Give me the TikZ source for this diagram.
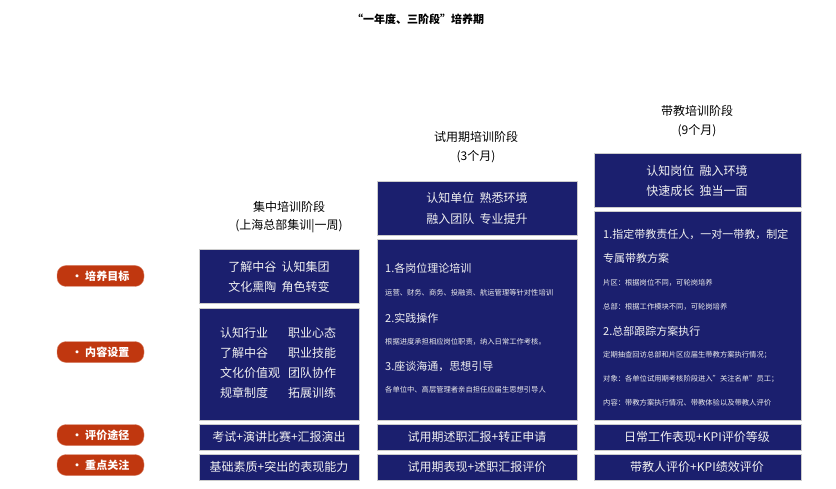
\documentclass[tikz,border=0pt]{standalone}
\usepackage{fontspec}
\setmainfont{Noto Sans CJK SC}
\begin{document}
\begin{tikzpicture}[x=1pt,y=-1pt,
  nbox/.style={fill=navy,draw=gray!40,line width=0.6pt},
  wt/.style={text=white!88!gray,font=\fontsize{12}{14}\selectfont,inner sep=0pt},
  st/.style={text=white!85!gray,font=\fontsize{7.3}{9}\selectfont,inner sep=0pt,anchor=west},
  mt/.style={text=white!88!gray,font=\fontsize{11}{13}\selectfont,inner sep=0pt,anchor=west},
  pill/.style={fill=pillc,draw=pillc!60,rounded corners=9pt,minimum width=87pt,minimum height=21pt,inner sep=0pt,text=white,font=\fontsize{11}{13}\selectfont\bfseries},
  ttl/.style={font=\fontsize{12}{14}\selectfont,inner sep=0pt}]
\definecolor{navy}{HTML}{1B1F6E}
\definecolor{pillc}{HTML}{C0370F}
\useasboundingbox (0,0) rectangle (836,489);
\node[font=\fontsize{11}{13}\selectfont\bfseries,inner sep=0pt] (title) at (418,19) {“一年度、三阶段”培养期};
% titles
\node[ttl] (t1a) at (289,207) {集中培训阶段};
\node[ttl] (t1b) at (289,226) {(上海总部集训|一周)};
\node[ttl] (t2a) at (476,137) {试用期培训阶段};
\node[ttl] (t2b) at (476,157) {(3个月)};
\node[ttl] (t3a) at (697,111) {带教培训阶段};
\node[ttl] (t3b) at (697,131) {(9个月)};
% pills
\foreach \n/\y/\t in {p1/276/培养目标,p2/352/内容设置,p3/435/评价途径,p4/465/重点关注}{
  \node[pill] (\n) at (100.5,\y) {\textbullet\ \t};
}
% column 1
\draw[nbox] (199,249) rectangle (359,303);
\node[wt] (a1) at (279,267) {了解中谷\ \ 认知集团};
\node[wt] (a2) at (279,287) {文化熏陶\ \ 角色转变};
\draw[nbox] (199,308) rectangle (359,420);
\foreach \y/\l/\r in {333/认知行业/职业心态,353/了解中谷/职业技能,373/文化价值观/团队协作,393/规章制度/拓展训练}{
  \node[wt,anchor=west] at (220,\y) {\l};
  \node[wt,anchor=west] at (288,\y) {\r};
}
\draw[nbox] (199,424) rectangle (359,450);
\node[wt] (c1) at (279,437) {考试+演讲比赛+汇报演出};
\draw[nbox] (199,454) rectangle (359,480);
\node[wt] (d1) at (279,467) {基础素质+突出的表现能力};
% column 2
\draw[nbox] (377,181) rectangle (577,235);
\node[wt] (h2a) at (477,198) {认知单位\ \ 熟悉环境};
\node[wt] (h2b) at (477,219) {融入团队\ \ 专业提升};
\draw[nbox] (377,239) rectangle (577,420);
\node[mt] at (385,268) {1.各岗位理论培训};
\node[st] at (385,293) {运营、财务、商务、投融资、航运管理等针对性培训};
\node[mt] at (385,318) {2.实践操作};
\node[st] at (385,342) {根据进度承担相应岗位职责，纳入日常工作考核。};
\node[mt] at (385,366) {3.座谈海通，思想引导};
\node[st] at (385,390) {各单位中、高层管理者亲自担任应届生思想引导人};
\draw[nbox] (377,424) rectangle (577,450);
\node[wt] (c2) at (477,437) {试用期述职汇报+转正申请};
\draw[nbox] (377,454) rectangle (577,480);
\node[wt] (d2) at (477,467) {试用期表现+述职汇报评价};
% column 3
\draw[nbox] (594,153) rectangle (801,207);
\node[wt] (h3a) at (697,171) {认知岗位\ \ 融入环境};
\node[wt] (h3b) at (697,191) {快速成长\ \ 独当一面};
\draw[nbox] (594,211) rectangle (801,420);
\node[mt] at (603,234) {1.指定带教责任人，一对一带教，制定};
\node[mt] at (603,258) {专属带教方案};
\node[st] at (603,283) {片区：根据岗位不同，可轮岗培养};
\node[st] at (603,307) {总部：根据工作模块不同，可轮岗培养};
\node[mt] at (603,331) {2.总部跟踪方案执行};
\node[st] at (603,355) {定期抽查回访总部和片区应届生带教方案执行情况；};
\node[st] at (603,379) {对象：各单位试用期考核阶段进入"关注名单"员工；};
\node[st] at (603,403) {内容：带教方案执行情况、带教体验以及带教人评价};
\draw[nbox] (594,424) rectangle (801,450);
\node[wt] (c3) at (697,437) {日常工作表现+KPI评价等级};
\draw[nbox] (594,454) rectangle (801,480);
\node[wt] (d3) at (697,467) {带教人评价+KPI绩效评价};
\end{tikzpicture}
\end{document}
